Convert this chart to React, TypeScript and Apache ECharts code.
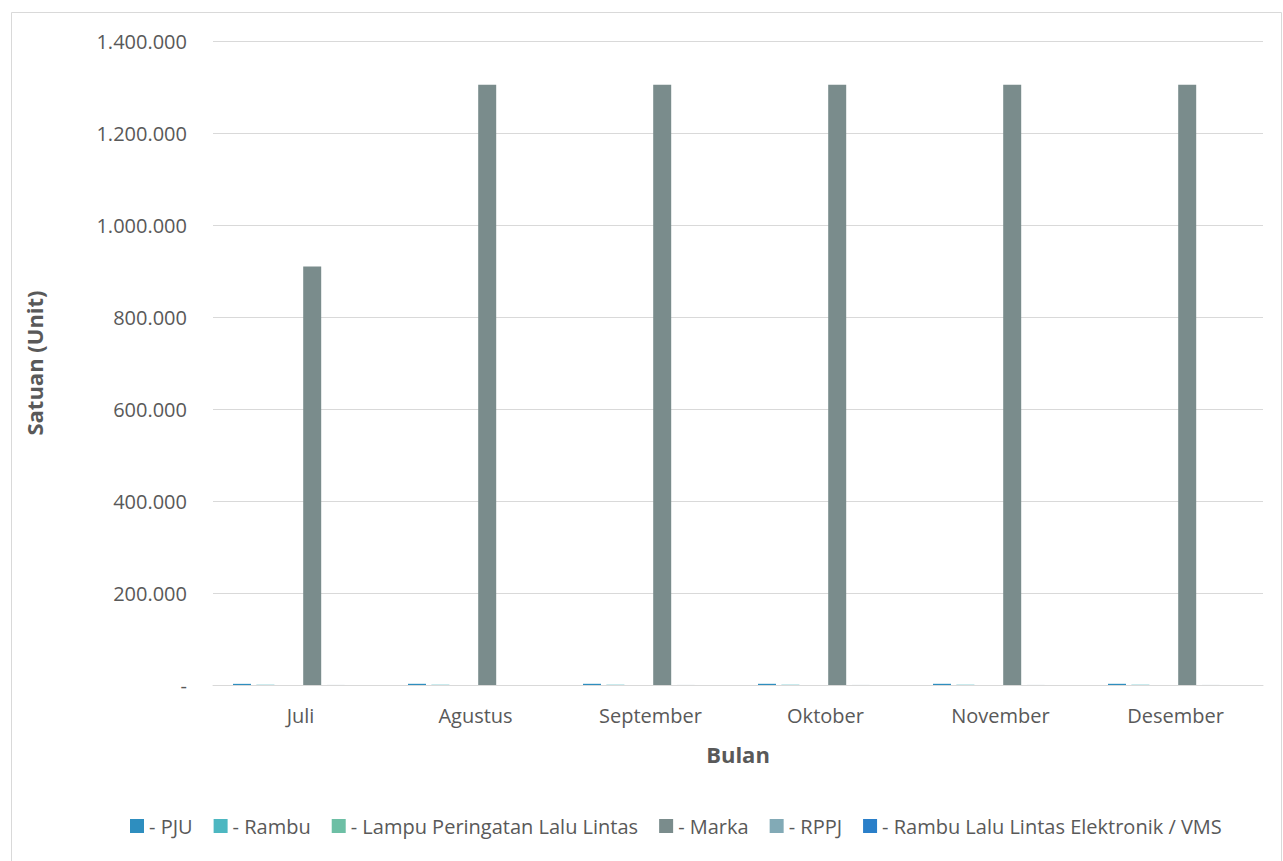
import React, { useEffect, useRef } from "react";
import * as echarts from "echarts";

const months = ["Juli", "Agustus", "September", "Oktober", "November", "Desember"];
const seriesNames = [
  "- PJU",
  "- Rambu",
  "- Lampu Peringatan Lalu Lintas",
  "- Marka",
  "- RPPJ",
  "- Rambu Lalu Lintas Elektronik / VMS",
];
const pju = [2500, 2600, 2600, 2600, 2600, 2600];
const rambu = [600, 650, 650, 650, 650, 650];
const lampu = [40, 45, 45, 45, 45, 45];
const marka = [910000, 1305000, 1305000, 1305000, 1305000, 1305000];
const rppj = [120, 130, 130, 130, 130, 130];
const vms = [5, 6, 6, 6, 6, 6];
const colors = ["#2E8EBF", "#4DB7C1", "#6DBFA5", "#7A8C8C", "#82AAB6", "#2A7FC9"];
const yTicks = { min: 0, max: 1400000, interval: 200000 };

const fmt = (v: number) =>
  v === 0 ? "-" : String(Math.round(v)).replace(/\B(?=(\d{3})+(?!\d))/g, ".");

export default function App() {
  const ref = useRef<HTMLDivElement>(null);
  useEffect(() => {
    if (!ref.current) return;
    const chart = echarts.init(ref.current, undefined, { renderer: "svg" });
    const values = [pju, rambu, lampu, marka, rppj, vms];
    const font = "'Open Sans', 'Liberation Sans', sans-serif";
    chart.setOption({
      animation: false,
      textStyle: { fontFamily: font },
      graphic: [
        {
          type: "rect",
          shape: { x: 11.5, y: 12.5, width: 1270, height: 860 },
          style: { fill: "none", stroke: "#d9d9d9", lineWidth: 1 },
          silent: true,
        },
      ],
      grid: { left: 213, right: 20, top: 41, bottom: 176 },
      legend: {
        left: 125,
        top: 811,
        icon: "rect",
        itemWidth: 14,
        itemHeight: 14,
        itemGap: 21,
        textStyle: { color: "#595959", fontSize: 20, fontFamily: font },
        data: seriesNames,
      },
      xAxis: {
        type: "category",
        data: months,
        axisLine: { lineStyle: { color: "#d9d9d9", width: 1 } },
        axisTick: { show: false },
        axisLabel: { color: "#595959", fontSize: 20, margin: 20, fontFamily: font },
        name: "Bulan",
        nameLocation: "middle",
        nameGap: 58,
        nameTextStyle: { color: "#595959", fontSize: 22, fontWeight: "bold", fontFamily: font },
      },
      yAxis: {
        type: "value",
        min: yTicks.min,
        max: yTicks.max,
        interval: yTicks.interval,
        axisLine: { show: false },
        axisTick: { show: false },
        splitLine: { lineStyle: { color: "#d9d9d9", width: 1 } },
        axisLabel: {
          color: "#595959",
          fontSize: 20,
          margin: 26,
          fontFamily: font,
          formatter: (v: number) => fmt(v),
        },
        name: "Satuan (Unit)",
        nameLocation: "middle",
        nameRotate: 90,
        nameGap: 168,
        nameTextStyle: { color: "#595959", fontSize: 22, fontWeight: "bold", fontFamily: font },
      },
      series: seriesNames.map((n, i) => ({
        name: n,
        type: "bar",
        data: values[i],
        barWidth: 18,
        barGap: "30%",
        itemStyle: { color: colors[i] },
      })),
    });
    return () => chart.dispose();
  }, []);
  return (
    <div
      ref={ref}
      style={{ position: "absolute", left: 0, top: 0, width: 1283, height: 861 }}
    />
  );
}
